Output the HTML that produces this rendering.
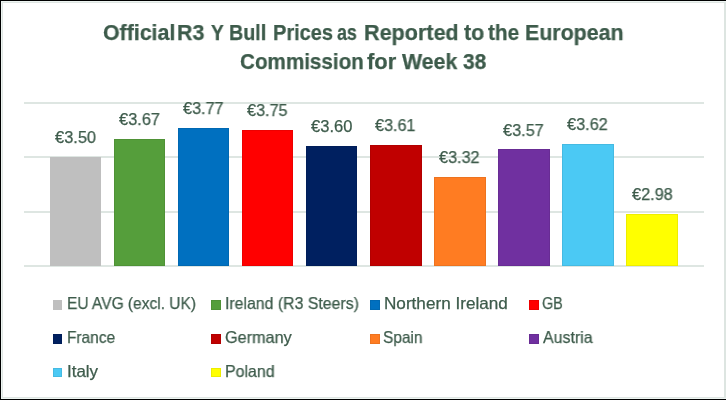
<!DOCTYPE html>
<html><head><meta charset="utf-8"><style>
html,body{margin:0;padding:0;}
body{width:726px;height:400px;overflow:hidden;background:#fff;position:relative;font-family:"Liberation Sans",sans-serif;}
.a{position:absolute;}
.t{position:absolute;white-space:nowrap;color:#3d5b4b;transform-origin:0 0;will-change:transform;-webkit-text-stroke:0.25px #3d5b4b;}
.g{position:absolute;left:24px;width:680px;height:2px;background:#dee6e2;}
.b{position:absolute;box-shadow:inset 0 0 0 1px rgba(0,0,0,0.07);}
.s{position:absolute;box-shadow:inset 0 0 0 1px rgba(0,0,0,0.07);}
</style></head><body>

<div class="a" style="left:0;top:0;width:726px;height:1px;background:#000"></div>
<div class="a" style="left:0;top:399px;width:726px;height:1px;background:#000"></div>
<div class="a" style="left:0;top:0;width:1px;height:400px;background:#000"></div>
<div class="a" style="left:1px;top:1px;width:725px;height:1px;background:#eef5f2"></div>
<div class="a" style="left:2px;top:2px;width:724px;height:1px;background:#dfe6e3"></div>
<div class="a" style="left:1px;top:398px;width:725px;height:1px;background:#eef5f2"></div>
<div class="a" style="left:2px;top:397px;width:724px;height:1px;background:#dfe6e3"></div>
<div class="a" style="left:1px;top:1px;width:1px;height:398px;background:#eef5f2"></div>
<div class="a" style="left:2px;top:2px;width:1px;height:396px;background:#dfe6e3"></div>
<div class="a" style="left:724px;top:3px;width:2px;height:394px;background:#dde5e1"></div>
<div class="t" style="left:102.63px;top:22px;font-size:22px;line-height:22px;font-weight:bold;transform:scaleX(0.9694)">Official</div>
<div class="t" style="left:176.93px;top:22px;font-size:22px;line-height:22px;font-weight:bold;transform:scaleX(0.9704)">R3</div>
<div class="t" style="left:211.10px;top:22px;font-size:22px;line-height:22px;font-weight:bold;transform:scaleX(0.8714)">Y</div>
<div class="t" style="left:228.91px;top:22px;font-size:22px;line-height:22px;font-weight:bold;transform:scaleX(0.8949)">Bull</div>
<div class="t" style="left:272.69px;top:22px;font-size:22px;line-height:22px;font-weight:bold;transform:scaleX(0.9094)">Prices</div>
<div class="t" style="left:337.10px;top:22px;font-size:22px;line-height:22px;font-weight:bold;transform:scaleX(0.8083)">as</div>
<div class="t" style="left:363.52px;top:22px;font-size:22px;line-height:22px;font-weight:bold;transform:scaleX(0.9809)">Reported</div>
<div class="t" style="left:463.90px;top:22px;font-size:22px;line-height:22px;font-weight:bold;transform:scaleX(0.9800)">to</div>
<div class="t" style="left:488.10px;top:22px;font-size:22px;line-height:22px;font-weight:bold;transform:scaleX(0.9455)">the</div>
<div class="t" style="left:524.93px;top:22px;font-size:22px;line-height:22px;font-weight:bold;transform:scaleX(0.9717)">European</div>
<div class="t" style="left:239.56px;top:51px;font-size:22px;line-height:22px;font-weight:bold;transform:scaleX(0.9377)">Commission</div>
<div class="t" style="left:366.60px;top:51px;font-size:22px;line-height:22px;font-weight:bold;transform:scaleX(0.9966)">for</div>
<div class="t" style="left:401.90px;top:51px;font-size:22px;line-height:22px;font-weight:bold;transform:scaleX(0.9702)">Week</div>
<div class="t" style="left:463.00px;top:51px;font-size:22px;line-height:22px;font-weight:bold;transform:scaleX(0.9500)">38</div>
<div class="g" style="top:102px"></div>
<div class="g" style="top:156px"></div>
<div class="g" style="top:211px"></div>
<div class="g" style="top:265px"></div>
<div class="b" style="left:50px;top:157px;width:51px;height:109px;background:#bfbfbf;box-shadow:none"></div>
<div class="t" style="left:55.00px;top:129px;font-size:16.5px;line-height:16.5px;font-weight:normal;transform:scaleX(0.9951)">€3.50</div>
<div class="b" style="left:114px;top:139px;width:51px;height:127px;background:#559e3b"></div>
<div class="t" style="left:118.90px;top:111px;font-size:16.5px;line-height:16.5px;font-weight:normal;transform:scaleX(0.9927)">€3.67</div>
<div class="b" style="left:178px;top:128px;width:51px;height:138px;background:#0070c0"></div>
<div class="t" style="left:183.00px;top:100px;font-size:16.5px;line-height:16.5px;font-weight:normal;transform:scaleX(0.9829)">€3.77</div>
<div class="b" style="left:242px;top:130px;width:51px;height:136px;background:#ff0000"></div>
<div class="t" style="left:247.00px;top:102px;font-size:16.5px;line-height:16.5px;font-weight:normal;transform:scaleX(0.9829)">€3.75</div>
<div class="b" style="left:306px;top:146px;width:51px;height:120px;background:#002060"></div>
<div class="t" style="left:310.90px;top:118px;font-size:16.5px;line-height:16.5px;font-weight:normal;transform:scaleX(1.0024)">€3.60</div>
<div class="b" style="left:370px;top:145px;width:52px;height:121px;background:#c00000"></div>
<div class="t" style="left:374.90px;top:117px;font-size:16.5px;line-height:16.5px;font-weight:normal;transform:scaleX(0.9805)">€3.61</div>
<div class="b" style="left:434px;top:177px;width:52px;height:89px;background:#ff7c22"></div>
<div class="t" style="left:438.90px;top:149px;font-size:16.5px;line-height:16.5px;font-weight:normal;transform:scaleX(0.9829)">€3.32</div>
<div class="b" style="left:498px;top:149px;width:52px;height:117px;background:#7030a0"></div>
<div class="t" style="left:502.90px;top:122px;font-size:16.5px;line-height:16.5px;font-weight:normal;transform:scaleX(0.9878)">€3.57</div>
<div class="b" style="left:562px;top:144px;width:52px;height:122px;background:#4bc9f4"></div>
<div class="t" style="left:567.10px;top:116px;font-size:16.5px;line-height:16.5px;font-weight:normal;transform:scaleX(0.9878)">€3.62</div>
<div class="b" style="left:626px;top:214px;width:52px;height:52px;background:#ffff00"></div>
<div class="t" style="left:631.60px;top:186px;font-size:16.5px;line-height:16.5px;font-weight:normal;transform:scaleX(0.9878)">€2.98</div>
<div class="s" style="left:53px;top:300px;width:9px;height:10px;background:#bfbfbf;box-shadow:none"></div>
<div class="t" style="left:67.06px;top:295px;font-size:16.5px;line-height:16.5px;font-weight:normal;transform:scaleX(0.9397)">EU AVG (excl. UK)</div>
<div class="s" style="left:211px;top:300px;width:10px;height:10px;background:#559e3b"></div>
<div class="t" style="left:225.14px;top:295px;font-size:16.5px;line-height:16.5px;font-weight:normal;transform:scaleX(0.9601)">Ireland (R3 Steers)</div>
<div class="s" style="left:370px;top:300px;width:10px;height:10px;background:#0070c0"></div>
<div class="t" style="left:383.96px;top:295px;font-size:16.5px;line-height:16.5px;font-weight:normal;transform:scaleX(1.0385)">Northern Ireland</div>
<div class="s" style="left:529px;top:300px;width:10px;height:10px;background:#ff0000"></div>
<div class="t" style="left:542.13px;top:295px;font-size:16.5px;line-height:16.5px;font-weight:normal;transform:scaleX(0.8727)">GB</div>
<div class="s" style="left:53px;top:334px;width:9px;height:10px;background:#002060"></div>
<div class="t" style="left:66.76px;top:329px;font-size:16.5px;line-height:16.5px;font-weight:normal;transform:scaleX(0.9360)">France</div>
<div class="s" style="left:211px;top:334px;width:10px;height:10px;background:#c00000"></div>
<div class="t" style="left:224.62px;top:329px;font-size:16.5px;line-height:16.5px;font-weight:normal;transform:scaleX(0.9836)">Germany</div>
<div class="s" style="left:370px;top:334px;width:10px;height:10px;background:#ff7c22"></div>
<div class="t" style="left:383.26px;top:329px;font-size:16.5px;line-height:16.5px;font-weight:normal;transform:scaleX(0.9366)">Spain</div>
<div class="s" style="left:529px;top:334px;width:10px;height:10px;background:#7030a0"></div>
<div class="t" style="left:543.00px;top:329px;font-size:16.5px;line-height:16.5px;font-weight:normal;transform:scaleX(0.9654)">Austria</div>
<div class="s" style="left:53px;top:368px;width:9px;height:9px;background:#4bc9f4"></div>
<div class="t" style="left:66.67px;top:363px;font-size:16.5px;line-height:16.5px;font-weight:normal;transform:scaleX(1.0276)">Italy</div>
<div class="s" style="left:211px;top:368px;width:10px;height:9px;background:#ffff00"></div>
<div class="t" style="left:225.23px;top:363px;font-size:16.5px;line-height:16.5px;font-weight:normal;transform:scaleX(0.9660)">Poland</div>
</body></html>
